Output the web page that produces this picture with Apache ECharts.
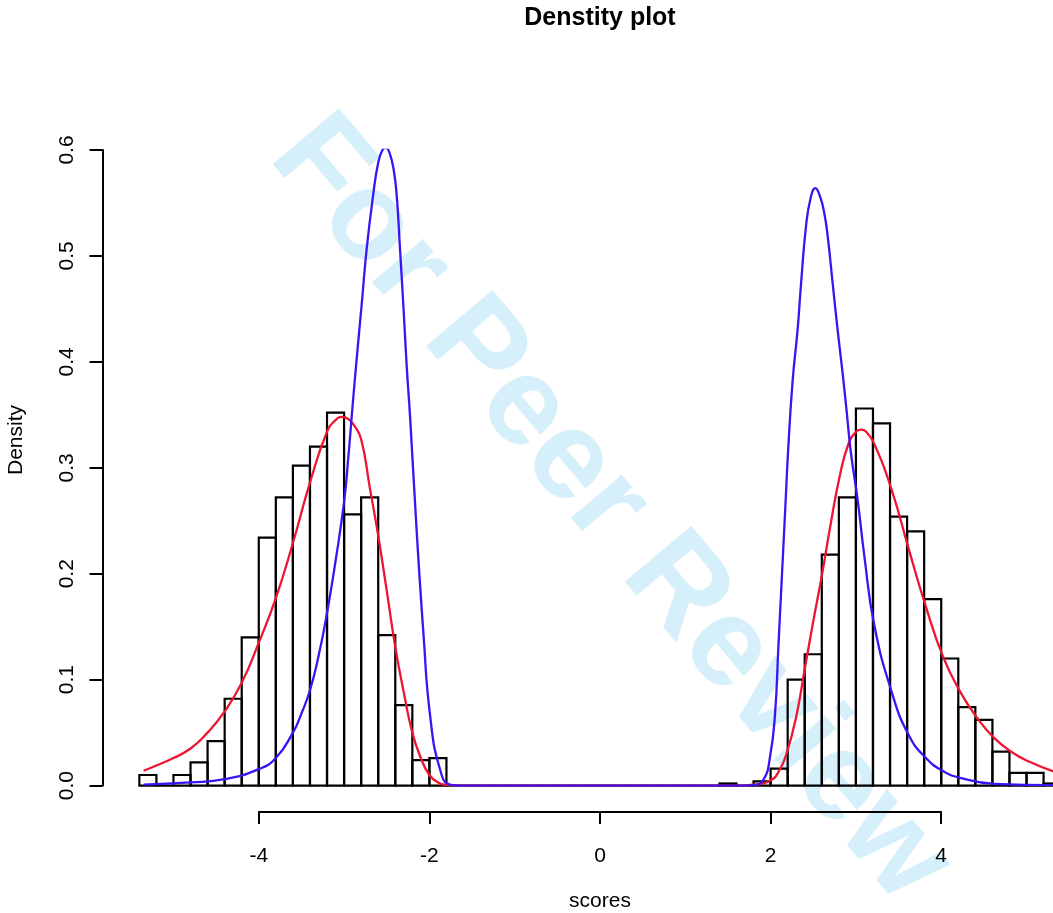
<!DOCTYPE html>
<html>
<head>
<meta charset="utf-8">
<title>Denstity plot</title>
<script src="https://cdn.jsdelivr.net/npm/echarts@6/dist/echarts.min.js"></script>
<style>
    body { margin: 0; background: #fff; }
    #main { width: 1053px; height: 913px; }
</style>
</head>
<body>
<div id="main"></div>
<script>
// 直方图: 每个 bin 从 binStart 开始, 宽 binWidth
var binStart = -5.4;
var binWidth = 0.2;
var density = [
    0.010, 0, 0.010, 0.022, 0.042, 0.082, 0.140, 0.234, 0.272, 0.302,
    0.320, 0.352, 0.256, 0.272, 0.142, 0.076, 0.024, 0.026,
    0, 0, 0, 0, 0, 0, 0, 0, 0, 0, 0, 0, 0, 0, 0, 0,
    0.002, 0, 0.004, 0.016, 0.100, 0.124, 0.218, 0.272, 0.356, 0.342,
    0.254, 0.240, 0.176, 0.120, 0.074, 0.062, 0.032, 0.012, 0.012, 0.002
];

// 红线 (x, y)
var redCurve = [
    [-5.35, 0.014], [-5.2, 0.019], [-5.0, 0.026], [-4.8, 0.035], [-4.6, 0.050], [-4.4, 0.070],
    [-4.2, 0.097], [-4.0, 0.135], [-3.8, 0.177], [-3.6, 0.229], [-3.4, 0.286],
    [-3.2, 0.334], [-3.1, 0.345], [-3.02, 0.348], [-2.95, 0.346], [-2.89, 0.341],
    [-2.8, 0.327], [-2.7, 0.282], [-2.6, 0.236], [-2.5, 0.184], [-2.4, 0.131],
    [-2.3, 0.088], [-2.2, 0.050], [-2.1, 0.026], [-2.0, 0.010], [-1.9, 0.003],
    [-1.8, 0.0007], [-1.6, 0], [0, 0], [1.6, 0],
    [1.8, 0.0008], [2.0, 0.005], [2.1, 0.014], [2.19, 0.031], [2.3, 0.065], [2.4, 0.110],
    [2.5, 0.155], [2.6, 0.198], [2.7, 0.245], [2.81, 0.292], [2.91, 0.322],
    [3.0, 0.334], [3.06, 0.336], [3.12, 0.334], [3.21, 0.3235], [3.42, 0.279],
    [3.62, 0.223], [3.82, 0.169], [4.02, 0.122], [4.22, 0.089], [4.42, 0.064],
    [4.62, 0.045], [4.82, 0.032], [5.02, 0.023], [5.33, 0.013], [5.5, 0.010]
];

// 蓝线 (x, y)
var blueCurve = [
    [-5.35, 0.001], [-4.8, 0.003], [-4.4, 0.006], [-4.0, 0.0155], [-3.8, 0.026],
    [-3.6, 0.050], [-3.5, 0.068], [-3.4, 0.090], [-3.3, 0.122], [-3.2, 0.163],
    [-3.1, 0.212], [-3.0, 0.268], [-2.95, 0.31], [-2.91, 0.349],
    [-2.86, 0.396], [-2.795, 0.453], [-2.736, 0.506], [-2.66, 0.557], [-2.6, 0.588],
    [-2.55, 0.600], [-2.51, 0.602], [-2.47, 0.598], [-2.42, 0.582], [-2.383, 0.557],
    [-2.344, 0.506], [-2.305, 0.453],
    [-2.266, 0.396], [-2.227, 0.349], [-2.148, 0.239], [-2.07, 0.144], [-1.99, 0.065],
    [-1.874, 0.015], [-1.76, 0.001], [-1.6, 0], [0, 0], [1.6, 0],
    [1.797, 0.0005], [1.915, 0.0054], [1.993, 0.027], [2.052, 0.068], [2.091, 0.131],
    [2.13, 0.194], [2.169, 0.257], [2.208, 0.320], [2.259, 0.383], [2.317, 0.431],
    [2.356, 0.473], [2.415, 0.528], [2.47, 0.555], [2.524, 0.564], [2.58, 0.556],
    [2.63, 0.540], [2.67, 0.518], [2.729, 0.473], [2.787, 0.429], [2.846, 0.388],
    [2.893, 0.352], [2.94, 0.315], [3.02, 0.270], [3.1, 0.216], [3.214, 0.152],
    [3.417, 0.089], [3.617, 0.048], [3.821, 0.026], [4.025, 0.0136], [4.221, 0.0074],
    [4.624, 0.0017], [5.5, 0.0003]
];

var xTicks = [-4, -2, 0, 2, 4];
var yTicks = [0, 0.1, 0.2, 0.3, 0.4, 0.5, 0.6];

var bins = [];
for (var i = 0; i < density.length; i++) {
    var left = +(binStart + i * binWidth).toFixed(2);
    bins.push([left, +(left + binWidth).toFixed(2), density[i]]);
}

var font = '"Liberation Sans", Arial, Helvetica, sans-serif';

var chart = echarts.init(document.getElementById('main'), null, { renderer: 'canvas' });

option = {
    backgroundColor: '#fff',
    animation: false,
    textStyle: { fontFamily: font, color: '#000' },
    graphic: [
        {
            // 水印
            type: 'text', x: 610, y: 510, rotation: -0.87, z: 0,
            style: {
                text: 'For Peer Review', x: 0, y: 0,
                font: 'bold 126px ' + font, fill: '#d5effb',
                textAlign: 'center', textVerticalAlign: 'middle'
            }
        },
        {
            type: 'text', x: 600, y: 18,
            style: {
                text: 'Denstity plot', font: 'bold 25px ' + font, fill: '#000',
                textAlign: 'center', textVerticalAlign: 'middle'
            }
        },
        {
            type: 'text', x: 600, y: 901,
            style: {
                text: 'scores', font: '21px ' + font, fill: '#000',
                textAlign: 'center', textVerticalAlign: 'middle'
            }
        },
        {
            type: 'text', x: 16, y: 440, rotation: Math.PI / 2,
            style: {
                text: 'Density', font: '21px ' + font, fill: '#000',
                textAlign: 'center', textVerticalAlign: 'middle'
            }
        }
    ],
    grid: [
        // 图区超出画布右边, 不要被压缩
        { left: 102.5, top: 150, width: 995, height: 635.6, outerBoundsMode: 'none', containLabel: false },
        // 只用来画 x 轴 (-4 到 4)
        { left: 258.8, top: 811, width: 682.4, height: 1, outerBoundsMode: 'none', containLabel: false }
    ],
    xAxis: [
        {
            gridIndex: 0, type: 'value', min: -5.832, max: 5.832, show: false
        },
        {
            gridIndex: 1, type: 'value', min: xTicks[0], max: xTicks[xTicks.length - 1], interval: 2,
            axisLine: { show: true, lineStyle: { color: '#000', width: 2 } },
            axisTick: { show: true, length: 12, lineStyle: { color: '#000', width: 2 } },
            axisLabel: { fontSize: 21, color: '#000', margin: 34, fontFamily: font },
            splitLine: { show: false }
        }
    ],
    yAxis: [
        {
            gridIndex: 0, type: 'value', min: yTicks[0], max: yTicks[yTicks.length - 1], interval: 0.1,
            axisLine: { show: true, onZero: false, lineStyle: { color: '#000', width: 2 } },
            axisTick: { show: true, length: 13, lineStyle: { color: '#000', width: 2 } },
            axisLabel: {
                fontSize: 21, color: '#000', margin: 25, rotate: 90, fontFamily: font,
                formatter: function (v) { return v.toFixed(1); }
            },
            splitLine: { show: false }
        },
        { gridIndex: 1, type: 'value', show: false }
    ],
    series: [
        {
            type: 'custom',
            xAxisIndex: 0, yAxisIndex: 0,
            data: bins,
            encode: { x: [0, 1], y: 2 },
            renderItem: function (params, api) {
                var p0 = api.coord([api.value(0), api.value(2)]);
                var p1 = api.coord([api.value(1), 0]);
                return {
                    type: 'rect',
                    shape: { x: p0[0], y: p0[1], width: p1[0] - p0[0], height: p1[1] - p0[1] },
                    style: { fill: 'none', stroke: '#000', lineWidth: 2.2 }
                };
            },
            z: 2
        },
        {
            type: 'line', xAxisIndex: 0, yAxisIndex: 0,
            data: redCurve, showSymbol: false, smooth: true,
            lineStyle: { color: '#ee1530', width: 2.3 }, z: 3
        },
        {
            type: 'line', xAxisIndex: 0, yAxisIndex: 0,
            data: blueCurve, showSymbol: false, smooth: true,
            lineStyle: { color: '#3a14f2', width: 2.3 }, z: 4
        }
    ]
};

chart.setOption(option);
</script>
</body>
</html>
